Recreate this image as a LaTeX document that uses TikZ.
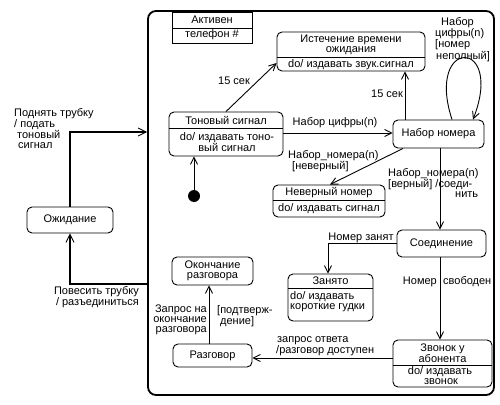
\documentclass[tikz,border=0pt]{standalone}
\usepackage{fontspec}
\setmainfont{Liberation Sans}
\usetikzlibrary{arrows.meta}
\begin{document}
\begin{tikzpicture}[x=1pt,y=-1pt,
  every node/.style={font=\fontsize{11}{10}\selectfont, inner sep=0pt},
  st/.style={draw, rounded corners=5pt, line width=0.9pt},
  sep/.style={line width=0.8pt},
  conn/.style={line width=0.9pt, -{Straight Barb[length=7pt,width=7pt]}},
  bigconn/.style={line width=1.8pt, -{Straight Barb[length=8pt,width=8pt,line width=0.9pt]}},
  lbl/.style={align=left, anchor=north west},
]
\useasboundingbox (0,0) rectangle (500,404);

% container
\node[draw, rounded corners=8pt, line width=1.8pt, minimum width=346pt, minimum height=384pt] (act) at (321,203) {};
% name compartment
\node[draw, line width=0.8pt, minimum width=80pt, minimum height=31pt, anchor=north west] (actname) at (172,12) {};
\draw[sep] (actname.west |- 0,28) -- (actname.east |- 0,28);
\node (actt) at (212,20) {Активен};
\node (acttel) at (212,35) {телефон \#};

% outside state
\node[st, minimum width=86pt, minimum height=26pt] (wait) at (70,220) {};
\node (waitt) at (70,220) {Ожидание};

% Истечение времени ожидания
\node[st, minimum width=148pt, minimum height=39pt] (ist) at (351,51.5) {};
\draw[sep] (ist.west |- 0,57) -- (ist.east |- 0,57);
\node[align=center] (istt) at (351,44.5) {Истечение времени\\ожидания};
\node (ista) at (351,64.5) {do/ издавать звук.сигнал};

% Тоновый сигнал
\node[st, minimum width=114pt, minimum height=44pt] (ton) at (226,134) {};
\draw[sep] (ton.west |- 0,128) -- (ton.east |- 0,128);
\node (tont) at (226,120) {Тоновый сигнал};
\node[align=center] (tona) at (227,142) {do/ издавать тоно-\\вый сигнал};

% Набор номера
\node[st, minimum width=91pt, minimum height=28pt] (nab) at (438.5,134) {};
\node (nabt) at (438.5,134) {Набор номера};

% Неверный номер
\node[st, minimum width=112pt, minimum height=32pt] (nev) at (329,201) {};
\draw[sep] (nev.west |- 0,200) -- (nev.east |- 0,200);
\node (nevt) at (329,192.5) {Неверный номер};
\node (neva) at (329,209) {do/ издавать сигнал};

% Соединение
\node[st, minimum width=89pt, minimum height=27pt] (soed) at (441.5,243.5) {};
\node (soedt) at (441.5,243.5) {Соединение};

% Окончание разговора
\node[st, minimum width=81pt, minimum height=28pt] (okon) at (212.5,271) {};
\node[align=center] (okont) at (212.5,271) {Окончание\\разговора};

% Занято
\node[st, minimum width=85pt, minimum height=47pt] (zan) at (330.5,297.5) {};
\draw[sep] (zan.west |- 0,288) -- (zan.east |- 0,288);
\node (zant) at (330.5,281) {Занято};
\node[align=left, anchor=west] (zana) at (290,302) {do/ издавать\\короткие гудки};

% Разговор
\node[st, minimum width=79pt, minimum height=23pt] (razg) at (212.5,355.5) {};
\node (razgt) at (212.5,355.5) {Разговор};

% Звонок у абонента
\node[st, minimum width=99pt, minimum height=47pt] (zvon) at (442.5,363.5) {};
\draw[sep] (zvon.west |- 0,365) -- (zvon.east |- 0,365);
\node[align=center] (zvont) at (442.5,353) {Звонок у\\абонента};
\node[align=center] (zvona) at (440,376) {do/ издавать\\\hspace*{2pt}звонок};

% initial state
\node[circle, fill, minimum size=12pt] (init) at (194,196) {};

% connectors
\draw[bigconn] (wait.north) |- (act.west |- 0,132);
\draw[bigconn] (act.west |- 0,284) -| (wait.south);
\draw[conn] (init) -- (ton.south -| init);
\draw[conn] (ton.north -| 226,0) -- (ist.west |- 0,63);
\draw[conn] (nab.north -| 405,0) -- (ist.south -| 405,0);
\draw[conn] (ton.east |- 0,133) -- (nab.west |- 0,133);
\draw[conn] (nab.north -| 452,0) .. controls (425,37) and (505,37) .. (nab.north -| 473,0);
\draw[conn] (nab.south -| 403,0) -- (nev.north -| 330,0);
\draw[conn] (nab.south -| 440,0) -- (soed.north -| 440,0);
\draw[conn] (soed.west) -| (zan.north -| 328,0);
\draw[conn] (soed.south -| 440,0) -- (zvon.north -| 440,0);
\draw[conn] (zvon.west |- 0,358) -- (razg.east |- 0,358);
\draw[conn] (razg.north -| 209,0) -- (okon.south -| 209,0);

% labels
\node[lbl] (l1) at (14,108) {Поднять трубку\\/ подать\\\hspace*{3pt}тоновый\\\hspace*{4pt}сигнал};
\node[align=right, anchor=north east] (l2) at (139,286) {Повесить трубку\\/ разъединиться};
\node (l3) at (234,81) {15 сек};
\node (l4) at (387,94) {15 сек};
\node (l5) at (335,123) {Набор цифры(n)};
\node[lbl] (l6) at (435,17) {\hspace*{6pt}Набор\\цифры(n)\\{[}номер\\\hspace*{1pt}неполный]};
\node[lbl] (l7) at (288,150) {Набор\_номера(n)\\\hspace*{4pt}{[}неверный]};
\node[lbl] (l8) at (388,168) {Набор\_номера(n)\\{[}верный] /соеди-\\\hspace*{67pt}нить};
\node[anchor=base] (l9) at (361,240) {Номер занят};
\node[anchor=east] (l10a) at (437,282) {Номер};
\node[anchor=west] (l10b) at (443,282) {свободен};
\node[lbl] (l11) at (276,336) {\hspace*{1pt}запрос ответа\\/разговор доступен};
\node[align=right, anchor=north east] (l12) at (207,305) {Запрос на\\окончание\\разговора};
\node[lbl] (l13) at (217,305) {{[}подтверж-\\\hspace*{3pt}дение]};
\end{tikzpicture}
\end{document}
